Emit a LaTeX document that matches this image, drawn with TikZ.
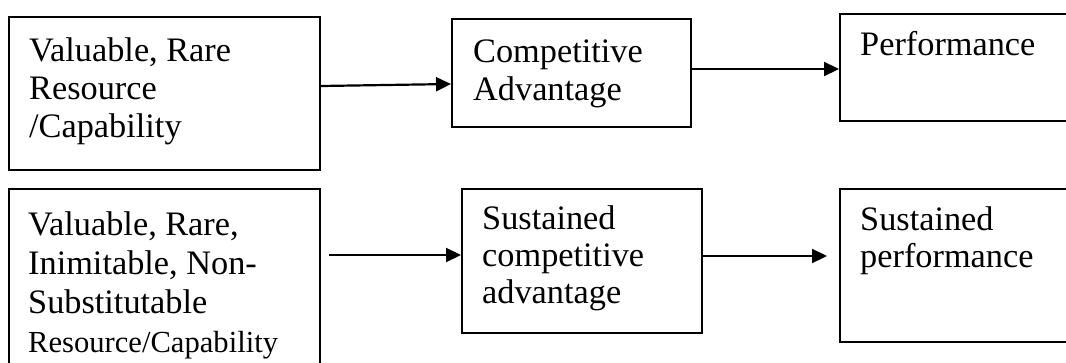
\documentclass[tikz,border=0pt]{standalone}
\usepackage{fontspec}
\setmainfont{Liberation Serif}
\usetikzlibrary{arrows.meta,calc}
\begin{document}
\begin{tikzpicture}[x=1pt,y=-1pt,
  box/.style={draw=black, line width=1.8pt, rectangle, inner sep=0pt, anchor=north west},
  lbl/.style={anchor=base west, inner sep=0pt, align=left,
              font=\fontsize{34.3}{38}\selectfont},
  arr/.style={line width=2.2pt, -{Triangle[length=15pt,width=14pt]}}]
\useasboundingbox (0,0) rectangle (1066,362);
\clip (0,0) rectangle (1066,362);

% top row: resource -> advantage -> performance
\node[box, minimum width=311pt, minimum height=153pt] (A) at (8,16) {};
\node[box, minimum width=239pt, minimum height=108pt] (B) at (451,18) {};
\node[box, minimum width=240pt, minimum height=107pt] (C) at (839,13) {};

% bottom row: sustained version
\node[box, minimum width=311pt, minimum height=200pt] (D) at (8,188) {};
\node[box, minimum width=240pt, minimum height=144pt] (E) at (461,188) {};
\node[box, minimum width=240pt, minimum height=153pt] (F) at (839,188) {};

% labels (placed by the baseline of their last line)
\node[lbl] (tA) at ($(A.north west)+(21,121)$) {Valuable, Rare\\Resource\\/Capability};
\node[lbl] (tB) at ($(B.north west)+(22,82)$) {Competitive\\Advantage};
\node[lbl] (tC) at ($(C.north west)+(21,42)$) {Performance};
\node[lbl, font=\fontsize{34.3}{39}\selectfont] (tD) at ($(D.north west)+(20,164)$)
  {Valuable, Rare,\\Inimitable, Non-\\Substitutable\\{\fontsize{30.6}{39}\selectfont Resource/Capability}};
\node[lbl, font=\fontsize{34.3}{37}\selectfont] (tE) at ($(E.north west)+(21,115)$) {Sustained\\competitive\\advantage};
\node[lbl, font=\fontsize{34.3}{37}\selectfont] (tF) at ($(F.north west)+(21,79)$) {Sustained\\performance};

% connectors
\draw[arr] ($(A.north east)+(0,70)$) -- ($(B.north west)+(0,66)$);
\draw[arr] ($(B.north east)+(0,51)$) -- ($(C.north west)+(0,56)$);
\draw[arr] ($(D.north east)+(8,67)$) -- ($(E.north west)+(0,67)$);
\draw[arr] ($(E.north east)+(0,68)$) -- ($(F.north west)+(-12,68)$);
\end{tikzpicture}
\end{document}
